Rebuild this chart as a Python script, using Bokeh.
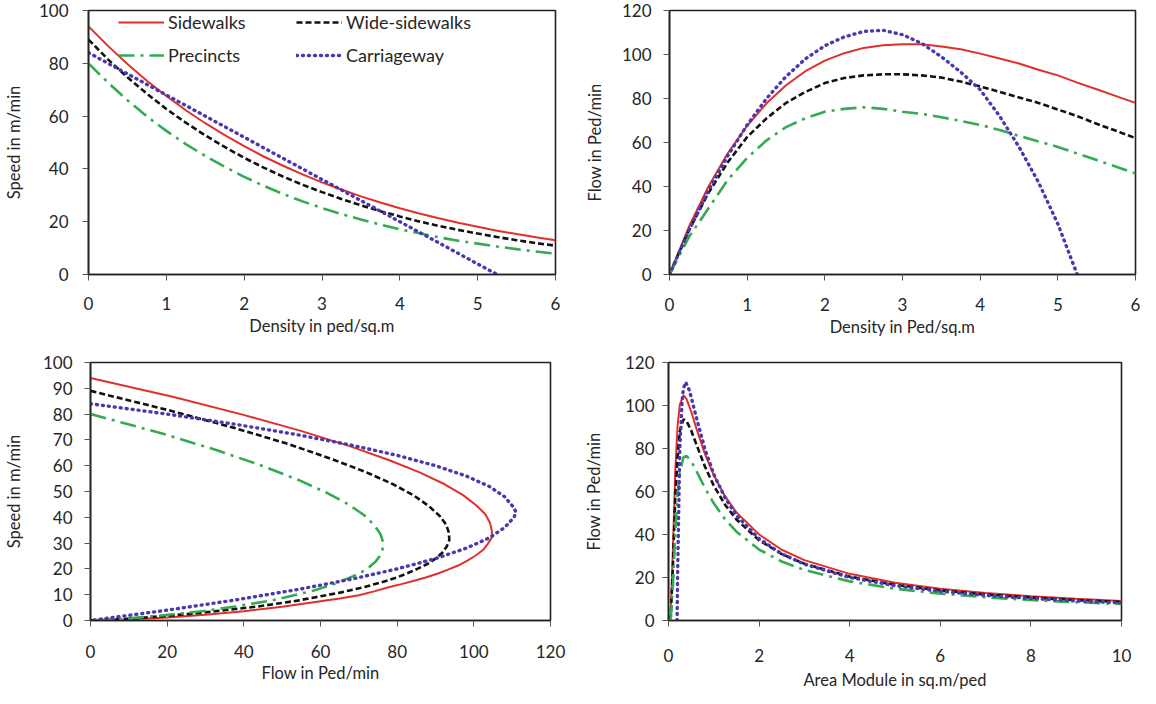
from bokeh.plotting import figure
from bokeh.layouts import column, row
from bokeh.models import FixedTicker, Legend, LegendItem, Range1d
from bokeh.embed import file_html
from bokeh.resources import INLINE

# ---------------- data ----------------
series_names = ["Sidewalks", "Wide-sidewalks", "Precincts", "Carriageway"]

# Speed vs density (top-left)
density = [0, 0.25, 0.5, 0.75, 1, 1.25, 1.5, 1.75, 2, 2.25, 2.5, 2.75, 3, 3.25, 3.5, 3.75,
           4, 4.25, 4.5, 4.75, 5, 5.25, 5.5, 5.75, 6]
sw_speed = [94, 86.6, 79.7, 73.4, 67.6, 62.2, 57.3, 52.8, 48.6, 44.7, 41.2, 37.9, 34.9, 32.2,
            29.6, 27.3, 25.1, 23.1, 21.3, 19.6, 18.1, 16.6, 15.3, 14.1, 13.0]
wide_speed = [89, 81.5, 74.7, 68.5, 62.7, 57.5, 52.7, 48.3, 44.2, 40.5, 37.1, 34.0, 31.2, 28.6,
              26.2, 24.0, 22.0, 20.1, 18.4, 16.9, 15.5, 14.2, 13.0, 11.9, 10.9]
prec_speed = [80, 72.7, 66.0, 59.9, 54.4, 49.4, 44.9, 40.8, 37.0, 33.6, 30.5, 27.7, 25.2, 22.9,
              20.8, 18.9, 17.1, 15.6, 14.1, 12.8, 11.7, 10.6, 9.6, 8.7, 7.9]
carr_density = [0, 0.25, 0.5, 0.75, 1, 1.25, 1.5, 1.75, 2, 2.25, 2.5, 2.75, 3, 3.25, 3.5, 3.75,
                4, 4.25, 4.5, 4.75, 5, 5.25]
carr_speed = [84, 80, 76, 72, 68, 64, 60, 56, 52, 48, 44, 40, 36, 32, 28, 24, 20, 16, 12, 8, 4, 0]

# Flow vs density (top-right)
sw_flow = [0, 21.7, 39.9, 55.1, 67.6, 77.8, 86, 92.4, 97.2, 100.6, 103, 104.2, 104.7, 104.7,
           103.6, 102.4, 100.4, 98.2, 95.9, 93.1, 90.5, 87.2, 84.2, 81.1, 78]
wide_flow = [0, 20, 37, 51, 62.5, 71, 78, 83, 87, 89.3, 90.5, 91, 91, 90.5, 89.5, 87.7, 85.5,
             83, 80.5, 78, 75, 72, 68.5, 65.3, 62]
prec_flow = [0, 17, 30, 43, 53, 61, 67, 71, 74, 75.3, 76, 75.3, 74, 73, 71.5, 69.8, 68, 65.7,
             63, 60.5, 58, 55, 52, 49, 46]
carr_flow = [0, 20, 38, 54, 68, 80, 90, 98, 104, 108, 110.5, 111, 109, 105, 99, 92, 84, 72, 58,
             42, 23, 0]

# Speed vs flow (bottom-left)
sf_sw_flow = [0, 21.7, 39.9, 55.1, 67.6, 77.8, 86, 92.4, 97.2, 100.6, 103, 104.2, 104.7, 104.7,
              103.6, 102.4, 100.4, 98.2, 95.9, 93.1, 90.5, 87.2, 84.2, 81.1, 78, 74, 70, 65,
              60, 50, 40, 30, 20, 10, 0]
sf_sw_speed = [94, 86.6, 79.7, 73.4, 67.6, 62.2, 57.3, 52.8, 48.6, 44.7, 41.2, 37.9, 34.9, 32.2,
               29.6, 27.3, 25.1, 23.1, 21.3, 19.6, 18.1, 16.6, 15.3, 14.1, 13, 11.3, 9.8, 8.5,
               7.5, 5.3, 3.6, 2.2, 1.2, 0.4, 0]
sf_wide_flow = [0, 20.4, 37.4, 51.4, 62.7, 71.9, 79.1, 84.5, 88.4, 91.1, 92.8, 93.5, 93.6, 92.9,
                91.7, 90, 88, 85.4, 82.8, 80.3, 77.5, 71.5, 65.4, 54, 43.5, 27, 12.2, 5, 0]
sf_wide_speed = [89, 81.5, 74.7, 68.5, 62.7, 57.5, 52.7, 48.3, 44.2, 40.5, 37.1, 34, 31.2, 28.6,
                 26.2, 24, 22, 20.1, 18.4, 16.9, 15.5, 13, 10.9, 7.7, 5.4, 2.7, 0.9, 0.3, 0]
sf_prec_flow = [0, 18.2, 33, 44.9, 54.4, 61.8, 67.4, 71.4, 74, 75.6, 76.3, 76.2, 75.6, 74.4,
                72.8, 70.9, 68.4, 63.5, 58.5, 48, 37.8, 29.6, 17, 7, 0]
sf_prec_speed = [80, 72.7, 66, 59.9, 54.4, 49.4, 44.9, 40.8, 37, 33.6, 30.5, 27.7, 25.2, 22.9,
                 20.8, 18.9, 17.1, 14.1, 11.7, 8, 5.4, 3.7, 1.7, 0.5, 0]
sf_carr_flow = [0, 20, 38, 54, 68, 80, 90, 98, 104, 108, 110.3, 111, 110.5, 108, 104, 98, 90, 80,
                68, 54, 38, 20, 0]
sf_carr_speed = [84, 80, 76, 72, 68, 64, 60, 56, 52, 48, 44, 42, 40, 36, 32, 28, 24, 20, 16, 12,
                 8, 4, 0]

# Flow vs area module (bottom-right)
area = [0.02, 0.05, 0.1, 0.15, 0.2, 0.25, 0.33, 0.4, 0.5, 0.6, 0.8, 1, 1.25, 1.5, 2, 2.5, 3, 4,
        5, 6, 7, 8, 9, 10]
am_sw_flow = [0, 3, 34.7, 69.5, 90.5, 100.4, 104.8, 103, 97.2, 90.4, 77.7, 67.6, 57.7, 50.3, 40,
              32.9, 28.1, 21.7, 17.6, 14.8, 12.8, 11.3, 10.1, 9.1]
am_wide_flow = [0, 1.5, 26.9, 57.7, 76, 88, 93.6, 92.7, 88.4, 82.8, 71.8, 62.7, 53.8, 47, 37.3,
                30.9, 26.4, 20.4, 16.6, 14.0, 12.1, 10.7, 9.5, 8.6]
am_prec_flow = [0, 1, 17, 40.9, 58.5, 68.8, 75.9, 76.5, 74.2, 70.2, 61.8, 54.5, 47, 41.3, 33,
                27.4, 23.5, 18.2, 14.8, 12.5, 10.8, 9.5, 8.5, 7.7]
area_carr = [0.19, 0.2, 0.25, 0.3, 0.33, 0.38, 0.45, 0.5, 0.6, 0.8, 1, 1.25, 1.5, 2, 2.5, 3, 4,
             5, 6, 7, 8, 9, 10]
am_carr_flow = [0, 20, 80, 102.2, 108, 110.8, 107.6, 104, 95.6, 80, 68, 57, 48.9, 38, 31, 26.2,
                20, 16.2, 13.6, 11.7, 10.25, 9.1, 8.2]

# ---------------- styling ----------------
FONT = "Lato"
TXT = "#262626"
STYLES = {
    "Sidewalks": dict(line_color="#e0302c", line_width=2, line_dash="solid"),
    "Wide-sidewalks": dict(line_color="#111111", line_width=2.6, line_dash="6 3"),
    "Precincts": dict(line_color="#34ab52", line_width=2.6, line_dash="16 6 3 6"),
    "Carriageway": dict(line_color="#4a38b0", line_width=3.4, line_dash="1 5", line_cap="round"),
}


def make_fig(width, height, bl, br, bt, bb, xr, yr, xticks, yticks, xlabel, ylabel,
             xstand, xlstand, ystand, ylstand):
    p = figure(width=width, height=height, x_range=Range1d(*xr), y_range=Range1d(*yr),
               output_backend="svg", toolbar_location=None,
               min_border_left=bl, min_border_right=br, min_border_top=bt, min_border_bottom=bb)
    p.xgrid.visible = False
    p.ygrid.visible = False
    p.outline_line_color = "#222222"
    p.outline_line_width = 1.6
    p.outline_line_alpha = 1.0
    p.background_fill_color = "white"
    p.border_fill_color = "white"
    p.xaxis.ticker = FixedTicker(ticks=xticks)
    p.yaxis.ticker = FixedTicker(ticks=yticks)
    for ax, stand, lstand, lab in ((p.xaxis, xstand, xlstand, xlabel), (p.yaxis, ystand, ylstand, ylabel)):
        ax.axis_label = lab
        ax.axis_label_text_font = FONT
        ax.axis_label_text_font_size = "16.5px"
        ax.axis_label_text_font_style = "normal"
        ax.axis_label_text_color = TXT
        ax.major_label_text_font = FONT
        ax.major_label_text_font_size = "17px"
        ax.major_label_text_color = TXT
        ax.major_label_standoff = stand
        ax.axis_label_standoff = lstand
        ax.minor_tick_line_color = None
        ax.major_tick_out = 6
        ax.major_tick_in = 0
        ax.major_tick_line_color = "#555555"
        ax.axis_line_color = "#222222"
        ax.axis_line_width = 1.6
    return p


# ---------- top-left: speed vs density ----------
p1 = make_fig(575, 344, 80, 20, 10, 69, (0, 6), (0, 100), [0, 1, 2, 3, 4, 5, 6],
              [0, 20, 40, 60, 80, 100], "Density in ped/sq.m", "Speed in m/min", 16, 3, 14, 12)
r_sw = p1.line(density, sw_speed, **STYLES["Sidewalks"])
r_wide = p1.line(density, wide_speed, **STYLES["Wide-sidewalks"])
r_prec = p1.line(density, prec_speed, **STYLES["Precincts"])
r_carr = p1.line(carr_density, carr_speed, **STYLES["Carriageway"])

fh = 344 - 10 - 69
leg_h = 24 + 9 + 24
for loc, items in (((30, fh - leg_h - 1), [(series_names[0], r_sw), (series_names[2], r_prec)]),
                   ((208, fh - leg_h - 1), [(series_names[1], r_wide), (series_names[3], r_carr)])):
    lg = Legend(items=[LegendItem(label=n, renderers=[r]) for n, r in items], location=loc,
                orientation="vertical", padding=0, margin=0, spacing=9,
                glyph_width=46, glyph_height=24, label_height=24, label_standoff=4,
                border_line_color=None, background_fill_alpha=0,
                label_text_font=FONT, label_text_font_size="18px", label_text_color=TXT)
    p1.add_layout(lg, "center")

# ---------- top-right: flow vs density ----------
p2 = make_fig(565, 344, 94, 5, 10, 70, (0, 6), (0, 120), [0, 1, 2, 3, 4, 5, 6],
              [0, 20, 40, 60, 80, 100, 120], "Density in Ped/sq.m", "Flow in Ped/min", 17, 3, 12, 14)
p2.line(density, sw_flow, **STYLES["Sidewalks"])
p2.line(density, wide_flow, **STYLES["Wide-sidewalks"])
p2.line(density, prec_flow, **STYLES["Precincts"])
p2.line(carr_density, carr_flow, **STYLES["Carriageway"])

# ---------- bottom-left: speed vs flow ----------
p3 = make_fig(575, 348, 80, 25, 18, 61, (0, 120), (0, 100), [0, 20, 40, 60, 80, 100, 120],
              [0, 10, 20, 30, 40, 50, 60, 70, 80, 90, 100], "Flow in Ped/min", "Speed in m/min",
              18, 2, 12, 16)
p3.line(sf_sw_flow, sf_sw_speed, **STYLES["Sidewalks"])
p3.line(sf_wide_flow, sf_wide_speed, **STYLES["Wide-sidewalks"])
p3.line(sf_prec_flow, sf_prec_speed, **STYLES["Precincts"])
p3.line(sf_carr_flow, sf_carr_speed, **STYLES["Carriageway"])

# ---------- bottom-right: flow vs area module ----------
p4 = make_fig(565, 348, 93, 19, 18, 70, (0, 10), (0, 120), [0, 2, 4, 6, 8, 10],
              [0, 20, 40, 60, 80, 100, 120], "Area Module in sq.m/ped", "Flow in Ped/min",
              22, 5, 8, 18)
p4.line(area, am_sw_flow, **STYLES["Sidewalks"])
p4.line(area, am_wide_flow, **STYLES["Wide-sidewalks"])
p4.line(area, am_prec_flow, **STYLES["Precincts"])
p4.line(area_carr, am_carr_flow, **STYLES["Carriageway"])

layout = column(row(p1, p2, spacing=0), row(p3, p4, spacing=0), spacing=0)
open("out.html", "w").write(file_html(layout, INLINE))
